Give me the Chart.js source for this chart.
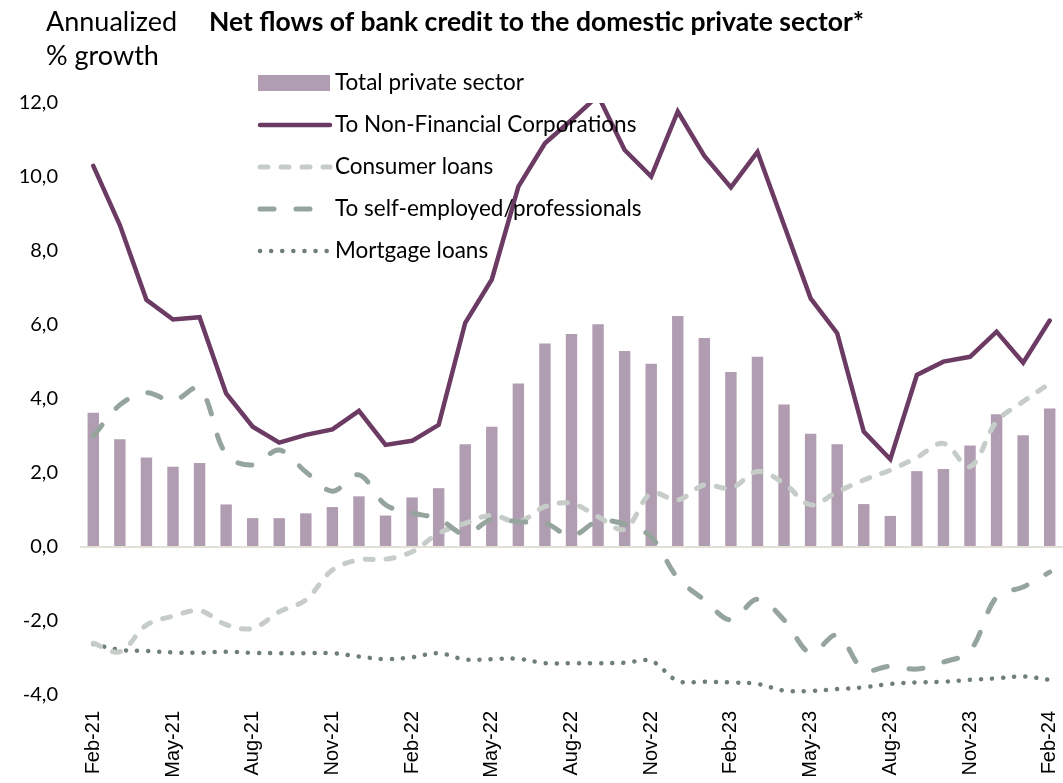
<!DOCTYPE html>
<html>
<head>
<meta charset="utf-8">
<script src="https://cdn.jsdelivr.net/npm/chart.js@4/dist/chart.umd.min.js"></script>
<style>
  html, body { margin: 0; padding: 0; background: #ffffff; }
  #wrap { width: 1063px; height: 783px; position: relative; }
</style>
</head>
<body>
<div id="wrap"><canvas id="chart" width="1063" height="783"></canvas></div>
<script>
// Monthly observations, Feb-21 .. Feb-24
const months = [
  'Feb-21','Mar-21','Apr-21','May-21','Jun-21','Jul-21','Aug-21','Sep-21','Oct-21','Nov-21','Dec-21',
  'Jan-22','Feb-22','Mar-22','Apr-22','May-22','Jun-22','Jul-22','Aug-22','Sep-22','Oct-22','Nov-22','Dec-22',
  'Jan-23','Feb-23','Mar-23','Apr-23','May-23','Jun-23','Jul-23','Aug-23','Sep-23','Oct-23','Nov-23','Dec-23',
  'Jan-24','Feb-24'
];

// Total private sector (bars)
const totalPrivate = [
  3.63, 2.91, 2.42, 2.17, 2.27, 1.15, 0.78, 0.78, 0.91, 1.08, 1.37,
  0.85, 1.34, 1.59, 2.78, 3.25, 4.42, 5.50, 5.76, 6.02, 5.30, 4.95, 6.24,
  5.65, 4.73, 5.14, 3.85, 3.06, 2.78, 1.16, 0.84, 2.05, 2.11, 2.74, 3.59,
  3.02, 3.74
];

// To non-financial corporations
const nonFinancial = [
  10.30, 8.70, 6.68, 6.15, 6.21, 4.15, 3.25, 2.82, 3.03, 3.18, 3.68,
  2.76, 2.87, 3.30, 6.06, 7.23, 9.74, 10.91, 11.54, 12.20, 10.73, 10.01, 11.77,
  10.57, 9.72, 10.68, 8.70, 6.72, 5.78, 3.12, 2.37, 4.65, 5.01, 5.14, 5.82,
  4.98, 6.12
];

// Consumer loans
const consumer = [
  -2.60, -2.83, -2.11, -1.87, -1.72, -2.10, -2.20, -1.75, -1.43, -0.62, -0.35,
  -0.33, -0.13, 0.37, 0.64, 0.86, 0.68, 1.09, 1.18, 0.82, 0.48, 1.45, 1.27,
  1.68, 1.59, 2.04, 1.72, 1.14, 1.49, 1.81, 2.08, 2.42, 2.80, 2.17, 3.39,
  3.93, 4.42
];

// To self-employed / professionals
const selfEmployed = [
  3.00, 3.84, 4.17, 3.95, 4.29, 2.50, 2.22, 2.62, 2.03, 1.51, 1.95,
  1.14, 0.92, 0.76, 0.35, 0.75, 0.68, 0.65, 0.30, 0.70, 0.62, 0.27, -0.84,
  -1.43, -1.97, -1.41, -1.97, -2.86, -2.38, -3.32, -3.22, -3.30, -3.11, -2.81, -1.35,
  -1.08, -0.68
];

// Mortgage loans
const mortgage = [
  -2.62, -2.78, -2.81, -2.85, -2.86, -2.83, -2.86, -2.87, -2.87, -2.87, -2.96,
  -3.03, -2.98, -2.87, -3.04, -3.03, -3.02, -3.14, -3.14, -3.14, -3.13, -3.08, -3.62,
  -3.64, -3.66, -3.70, -3.88, -3.89, -3.84, -3.79, -3.70, -3.66, -3.64, -3.59, -3.55,
  -3.50, -3.59
];

const yTicks = [-4, -2, 0, 2, 4, 6, 8, 10, 12];

const titleText = 'Net flows of bank credit to the domestic private sector*';
const unitLines = ['Annualized', '% growth'];

const BASE_FONT = 'Lato, "Open Sans", sans-serif';

// Headline and unit caption above the plot
const headerPlugin = {
  id: 'header',
  afterDraw(chart) {
    const ctx = chart.ctx;
    ctx.save();
    ctx.fillStyle = '#000000';
    ctx.textBaseline = 'middle';
    ctx.textAlign = 'left';
    ctx.font = '27px ' + BASE_FONT;
    ctx.fillText(unitLines[0], 46, 22);
    ctx.fillText(unitLines[1], 46, 56);
    ctx.font = 'bold 26.5px ' + BASE_FONT;
    ctx.fillText(titleText, 209, 22);
    ctx.restore();
  }
};

// Legend stacked inside the plot area, one series per row
const inlineLegend = {
  id: 'inlineLegend',
  afterDraw(chart) {
    const ctx = chart.ctx;
    const x0 = 258, x1 = 330, textX = 335, y0 = 83, rowGap = 42;
    ctx.save();
    chart.data.datasets.forEach((ds, i) => {
      const y = y0 + i * rowGap;
      if (ds.type === 'bar') {
        ctx.fillStyle = ds.backgroundColor;
        ctx.fillRect(x0, y - 8, x1 - x0, 16);
      } else {
        ctx.strokeStyle = ds.borderColor;
        ctx.lineWidth = ds.borderWidth;
        ctx.lineCap = ds.borderCapStyle || 'butt';
        ctx.setLineDash(ds.borderDash || []);
        ctx.beginPath();
        ctx.moveTo(x0 + 2, y);
        ctx.lineTo(x1, y);
        ctx.stroke();
        ctx.setLineDash([]);
      }
      ctx.fillStyle = '#000000';
      ctx.font = '22.5px ' + BASE_FONT;
      ctx.textAlign = 'left';
      ctx.textBaseline = 'middle';
      ctx.fillText(ds.label, textX, y);
    });
    ctx.restore();
  }
};

const ctx = document.getElementById('chart').getContext('2d');
new Chart(ctx, {
  data: {
    labels: months,
    datasets: [
      {
        type: 'bar',
        label: 'Total private sector',
        data: totalPrivate,
        backgroundColor: '#b19db1',
        borderWidth: 0,
        categoryPercentage: 1.0,
        barPercentage: 0.43,
        order: 10
      },
      {
        type: 'line',
        label: 'To Non-Financial Corporations',
        data: nonFinancial,
        borderColor: '#6b3b64',
        borderWidth: 4.5,
        tension: 0,
        pointRadius: 0,
        borderCapStyle: 'round',
        borderJoinStyle: 'miter',
        order: 1
      },
      {
        type: 'line',
        label: 'Consumer loans',
        data: consumer,
        borderColor: '#c6cdc8',
        borderWidth: 5,
        borderDash: [8, 13],
        borderCapStyle: 'round',
        tension: 0.35,
        pointRadius: 0,
        order: 3
      },
      {
        type: 'line',
        label: 'To self-employed/professionals',
        data: selfEmployed,
        borderColor: '#95a59d',
        borderWidth: 5,
        borderDash: [14, 22],
        borderCapStyle: 'round',
        tension: 0.35,
        pointRadius: 0,
        order: 2
      },
      {
        type: 'line',
        label: 'Mortgage loans',
        data: mortgage,
        borderColor: '#6f7f78',
        borderWidth: 4.5,
        borderDash: [0.1, 11],
        borderCapStyle: 'round',
        tension: 0.35,
        pointRadius: 0,
        order: 4
      }
    ]
  },
  options: {
    responsive: false,
    animation: false,
    events: [],
    layout: { padding: { top: 103, right: 0, left: 0, bottom: 0 } },
    plugins: {
      legend: { display: false },
      tooltip: { enabled: false },
      title: { display: false }
    },
    scales: {
      x: {
        type: 'category',
        offset: true,
        grid: { display: false, drawTicks: false },
        border: { display: false },
        ticks: {
          autoSkip: false,
          minRotation: 90,
          maxRotation: 90,
          padding: 16,
          color: '#000000',
          font: { family: '"Liberation Sans", Arial, sans-serif', size: 20 },
          callback: function (value, index) {
            return index % 3 === 0 ? months[index] : '';
          }
        },
        afterFit(scale) {
          scale.height = 88;
          scale.paddingLeft = 0;
          scale.paddingRight = 0;
        }
      },
      y: {
        type: 'linear',
        min: yTicks[0],
        max: yTicks[yTicks.length - 1],
        afterBuildTicks(scale) {
          scale.ticks = yTicks.map(v => ({ value: v }));
        },
        grid: {
          drawTicks: false,
          lineWidth: 2,
          color: (c) => (c.tick && c.tick.value === 0 ? '#e3e0d5' : 'rgba(0,0,0,0)')
        },
        border: { display: false },
        ticks: {
          padding: 22,
          color: '#000000',
          font: { family: BASE_FONT, size: 20 },
          callback: (v) => v.toFixed(1).replace('.', ',')
        },
        afterFit(scale) {
          scale.width = 80;
          scale.paddingTop = 0;
          scale.paddingBottom = 0;
        }
      }
    }
  },
  plugins: [headerPlugin, inlineLegend]
});
</script>
</body>
</html>
